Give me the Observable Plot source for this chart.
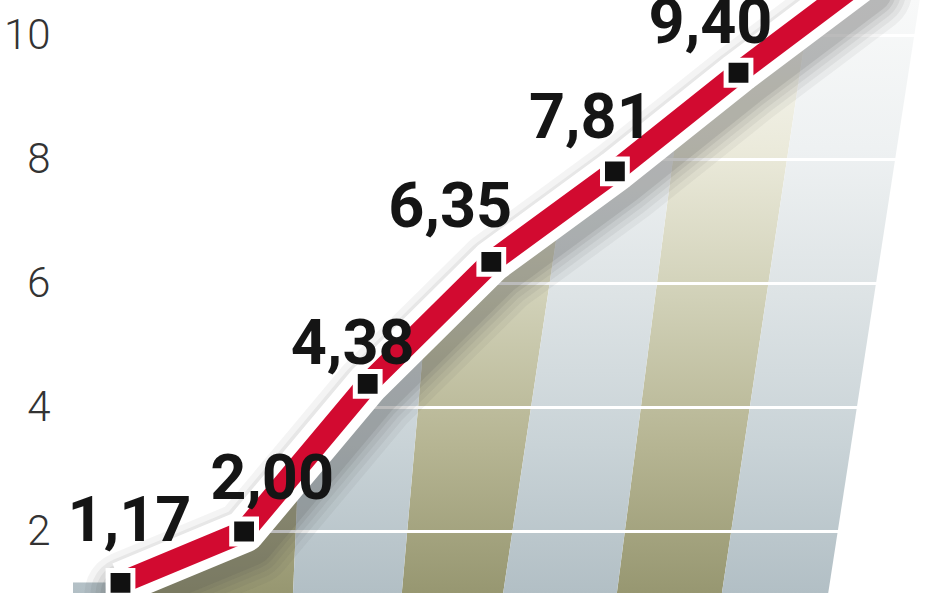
<!DOCTYPE html>
<html>
<head>
<meta charset="utf-8">
<script src="https://cdn.jsdelivr.net/npm/d3@7"></script>
<script src="https://cdn.jsdelivr.net/npm/@observablehq/plot@0.6"></script>
<style>
  html, body { margin: 0; padding: 0; background: #fff; }
  #chart { width: 948px; height: 593px; overflow: hidden; }
</style>
</head>
<body>
<div id="chart"></div>
<script>
// ---- data ----
const periods = [0, 1, 2, 3, 4, 5, 6];
const values = [1.17, 2.00, 4.38, 6.35, 7.81, 9.40, 10.9]; // last value runs off the top, estimated
const labels = ["1,17", "2,00", "4,38", "6,35", "7,81", "9,40", null];
const yTicks = [2, 4, 6, 8, 10];

// background column bands (slanted, perspective), in x-scale units
const bandKind = ["blue", "olive", "blue", "olive", "blue", "olive", "blue"];
const bandEdgesBottom = [-0.38, 0.12, 1.40, 2.28, 3.10, 4.02, 4.87, 5.73];
const bandEdgesTop = [-0.38, 0.16, 1.61, 2.70, 3.82, 4.64, 5.59, 6.47];

// ---- layout ----
const W = 948, H = 593;
const xDomain = [-0.4854, 6.699];
const yDomain = [1.0, 10.565];
const labelDx = [9, 28, -15, -41, -24, -28];
const labelDy = [-62, -53, -40, -55, -53, -50];

const points = periods.map((p, i) => ({p, v: values[i], label: labels[i]}));
const bandRows = [];
bandKind.forEach((k, i) => {
  bandRows.push({band: i, kind: k, y: yDomain[0], x1: bandEdgesBottom[i], x2: bandEdgesBottom[i + 1]});
  bandRows.push({band: i, kind: k, y: yDomain[1], x1: bandEdgesTop[i], x2: bandEdgesTop[i + 1]});
});

const red = "#d20a30";
const labelFont = "Roboto, 'Liberation Sans', sans-serif";

const labelMarks = points.filter(d => d.label).map((d, i) =>
  Plot.text([d], {
    x: "p", y: "v", text: "label",
    dx: labelDx[i], dy: labelDy[i],
    fontSize: 63, fontWeight: 700, fill: "#151515",
    fontFamily: labelFont,
    textAnchor: "middle", lineAnchor: "middle"
  })
);

const shadowLayers = [[86, 0.06], [74, 0.07], [64, 0.08], [54, 0.1], [46, 0.12]].map(([w, o]) =>
  Plot.line(points, {x: "p", y: "v", stroke: "#4a4a4a", strokeWidth: w, strokeOpacity: o, dx: 7, dy: 11, strokeLinejoin: "round"})
);

const svg = Plot.plot({
  width: W, height: H,
  marginLeft: 60, marginRight: 0, marginTop: 0, marginBottom: 0,
  style: {fontFamily: "Roboto, sans-serif", fontSize: "42px", fontWeight: 300, color: "#333", background: "#fff", overflow: "hidden"},
  x: {domain: xDomain, axis: null},
  y: {domain: yDomain, ticks: yTicks, tickSize: 0, tickPadding: 10, label: null, tickFormat: d => String(d)},
  marks: [
    Plot.areaX(bandRows.filter(d => d.kind === "olive"), {y: "y", x1: "x1", x2: "x2", z: "band", fill: "url(#gOlive)", curve: "linear"}),
    Plot.areaX(bandRows.filter(d => d.kind === "blue"), {y: "y", x1: "x1", x2: "x2", z: "band", fill: "url(#gBlue)", curve: "linear"}),
    Plot.ruleY(yTicks, {stroke: "#fff", strokeWidth: 3}),
    // white above the line
    Plot.areaY(points, {x: "p", y1: "v", y2: yDomain[1], fill: "#fff", curve: "linear"}),
    Plot.rect([points[0]], {x1: xDomain[0], x2: "p", y1: "v", y2: yDomain[1], fill: "#fff"}),
    // soft shadow around the line
    ...shadowLayers,
    // white casing + red line
    Plot.line(points, {x: "p", y: "v", stroke: "#fff", strokeWidth: 42, strokeLinejoin: "round", strokeLinecap: "butt"}),
    Plot.line(points, {x: "p", y: "v", stroke: red, strokeWidth: 22, strokeLinejoin: "round", strokeLinecap: "butt"}),
    // markers
    Plot.dot(points, {x: "p", y: "v", symbol: "square", r: 14, fill: "#111", stroke: "#fff", strokeWidth: 5}),
    ...labelMarks
  ]
});

// gradients
const defs = d3.select(svg).insert("defs", ":first-child");
function grad(id, stops) {
  const g = defs.append("linearGradient").attr("id", id).attr("x1", 0).attr("y1", 0).attr("x2", 0).attr("y2", 1);
  stops.forEach(([o, c]) => g.append("stop").attr("offset", o).attr("stop-color", c));
}
grad("gOlive", [[0, "#f8f8f3"], [0.25, "#ebeadb"], [0.5, "#d1d1b8"], [0.75, "#b6b593"], [1, "#979771"]]);
grad("gBlue", [[0, "#f8f9f9"], [0.25, "#eef1f2"], [0.5, "#dde3e5"], [0.75, "#c9d3d7"], [1, "#b2bfc5"]]);

document.getElementById("chart").appendChild(svg);
</script>
</body>
</html>
